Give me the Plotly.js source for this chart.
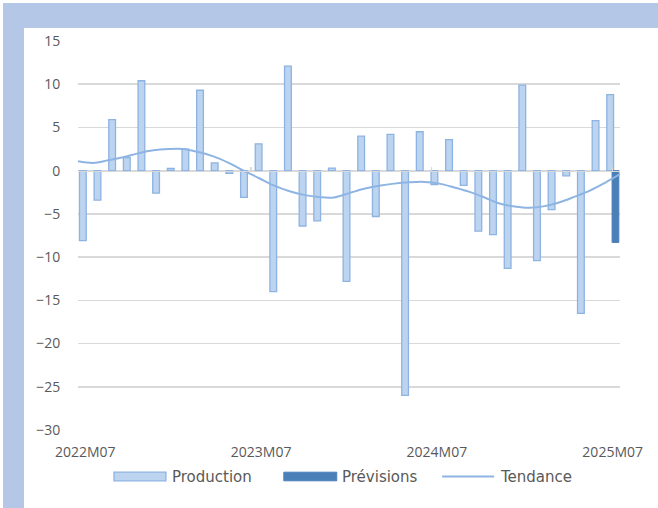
<!DOCTYPE html>
<html>
<head>
<meta charset="utf-8">
<script src="https://cdn.plot.ly/plotly-3.0.1.min.js"></script>
<style>
  html, body { margin: 0; padding: 0; background: #ffffff; }
  #bandTop { position: absolute; left: 3px; top: 3px; width: 655px; height: 25px; background: #b4c7e7; }
  #bandLeft { position: absolute; left: 3px; top: 3px; width: 21px; height: 505px; background: #b4c7e7; }
  #chart { position: absolute; left: 0; top: 0; width: 658px; height: 508px; }
</style>
</head>
<body>
<div id="bandTop"></div>
<div id="bandLeft"></div>
<div id="chart"></div>
<script>
// ---- data ----
const months = [
  '2022M07','2022M08','2022M09','2022M10','2022M11','2022M12',
  '2023M01','2023M02','2023M03','2023M04','2023M05','2023M06',
  '2023M07','2023M08','2023M09','2023M10','2023M11','2023M12',
  '2024M01','2024M02','2024M03','2024M04','2024M05','2024M06',
  '2024M07','2024M08','2024M09','2024M10','2024M11','2024M12',
  '2025M01','2025M02','2025M03','2025M04','2025M05','2025M06',
  '2025M07'
];
const production = [
  -8.1, -3.4, 5.9, 1.5, 10.4, -2.6,
  0.25, 2.5, 9.3, 0.9, -0.3, -3.1,
  3.1, -14.0, 12.1, -6.4, -5.8, 0.3,
  -12.8, 4.0, -5.3, 4.2, -26.0, 4.5,
  -1.6, 3.6, -1.7, -7.0, -7.4, -11.3,
  9.9, -10.4, -4.5, -0.6, -16.5, 5.8,
  8.8
];
const previsions = [
  null, null, null, null, null, null,
  null, null, null, null, null, null,
  null, null, null, null, null, null,
  null, null, null, null, null, null,
  null, null, null, null, null, null,
  null, null, null, null, null, null,
  -8.3
];
const tendance = [
  1.1, 0.9, 1.2, 1.55, 2.0, 2.35,
  2.5, 2.5, 2.15, 1.65, 0.9, 0.0,
  -0.85, -1.7, -2.35, -2.8, -3.05, -3.1,
  -2.6, -2.1, -1.75, -1.5, -1.35, -1.3,
  -1.5, -1.95, -2.45, -3.1, -3.8, -4.15,
  -4.3, -4.1, -3.65, -3.0, -2.3, -1.4,
  -0.4
];
const tickLabels = ['2022M07', '2023M07', '2024M07', '2025M07'];
const seriesNames = ['Production', 'Prévisions', 'Tendance'];

// ---- styles ----
const cLightFill = '#bcd4ef';
const cLightLine = '#8db3e2';
const cDark = '#4a7fb8';
const cTrend = '#8eb4e3';
const cText = '#595959';
const cGrid = '#d9d9d9';

const L = 77.5, R = 620, T = 41, B = 430;
const W = 658, H = 508;
const px = x => (x - L) / (R - L);
const py = y => (B - y) / (B - T);

const traces = [
  {
    type: 'bar', name: seriesNames[0], x: months, y: production,
    offset: -0.4, width: 0.46,
    marker: { color: cLightFill, line: { color: cLightLine, width: 1.3 } },
    showlegend: false, hoverinfo: 'x+y'
  },
  {
    type: 'bar', name: seriesNames[1], x: months, y: previsions,
    offset: -0.04, width: 0.46,
    marker: { color: cDark, line: { color: cDark, width: 1 } },
    showlegend: false, hoverinfo: 'x+y'
  },
  {
    type: 'scatter', mode: 'lines', name: seriesNames[2], x: months, y: tendance,
    xaxis: 'x2', yaxis: 'y',
    line: { color: cTrend, width: 2, shape: 'spline', smoothing: 1 },
    showlegend: false, hoverinfo: 'x+y'
  }
];

// custom legend (swatches + labels)
const legendY = 476.5;
const shapes = [
  { type: 'rect', xref: 'paper', yref: 'paper',
    x0: px(113.5), x1: px(165.5), y0: py(legendY - 4.3), y1: py(legendY + 4.3),
    fillcolor: cLightFill, line: { color: cLightLine, width: 1.3 } },
  { type: 'rect', xref: 'paper', yref: 'paper',
    x0: px(283.5), x1: px(336.5), y0: py(legendY - 4.3), y1: py(legendY + 4.3),
    fillcolor: cDark, line: { color: cDark, width: 1 } },
  { type: 'line', xref: 'paper', yref: 'paper',
    x0: px(442), x1: px(494), y0: py(legendY), y1: py(legendY),
    line: { color: cTrend, width: 2 } }
];
const legFont = { family: 'DejaVu Sans', size: 15, color: cText };
const annotations = [
  { text: seriesNames[0], x: px(170), xref: 'paper', y: py(legendY), yref: 'paper', xanchor: 'left', yanchor: 'middle', showarrow: false, font: legFont },
  { text: seriesNames[1], x: px(340), xref: 'paper', y: py(legendY), yref: 'paper', xanchor: 'left', yanchor: 'middle', showarrow: false, font: legFont },
  { text: seriesNames[2], x: px(497.5), xref: 'paper', y: py(legendY), yref: 'paper', xanchor: 'left', yanchor: 'middle', showarrow: false, font: legFont }
];

const tickFont = { family: 'Open Sans', size: 14, color: cText };

const layout = {
  width: W, height: H,
  margin: { l: L, r: W - R, t: T, b: H - B, pad: 0 },
  paper_bgcolor: 'rgba(0,0,0,0)',
  plot_bgcolor: 'rgba(0,0,0,0)',
  barmode: 'overlay',
  showlegend: false,
  xaxis: {
    type: 'category',
    tickmode: 'array', tickvals: tickLabels, ticktext: tickLabels,
    ticks: 'outside', ticklen: 9, tickcolor: 'rgba(0,0,0,0)',
    showline: false, showgrid: false, zeroline: false,
    tickfont: tickFont, fixedrange: true
  },
  xaxis2: {
    type: 'category', overlaying: 'x', anchor: 'free', position: 30 / 45,
    showline: true, linecolor: cGrid, linewidth: 1.6,
    ticks: 'inside', ticklen: 4, tickwidth: 1.3, tickcolor: cGrid,
    tickson: 'boundaries', tickmode: 'linear', tick0: 0, dtick: 12,
    showticklabels: false, showgrid: false, zeroline: false, fixedrange: true
  },
  yaxis: {
    range: [-30, 15], dtick: 5, tick0: 0,
    showgrid: true, gridcolor: cGrid, gridwidth: 1.6,
    zeroline: false, showline: false,
    ticks: 'outside', ticklen: 14, tickcolor: 'rgba(0,0,0,0)',
    tickfont: tickFont, fixedrange: true
  },
  shapes: shapes,
  annotations: annotations
};

Plotly.newPlot('chart', traces, layout, { displayModeBar: false, staticPlot: true });
</script>
</body>
</html>
